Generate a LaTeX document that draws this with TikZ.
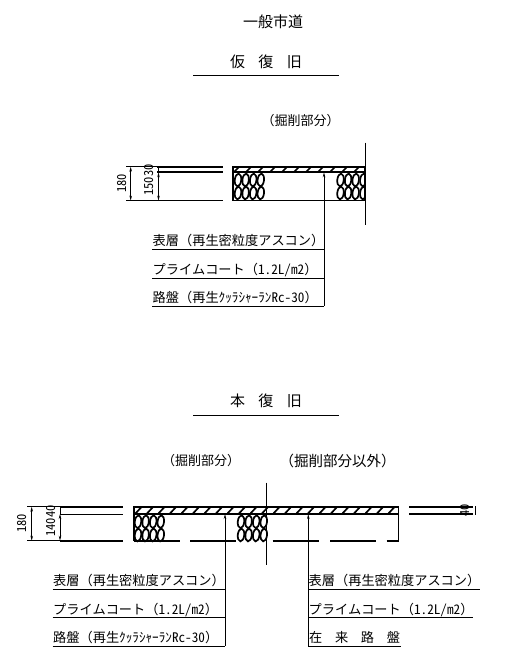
\documentclass[tikz,border=0pt]{standalone}
\usepackage{fontspec}
\setmainfont{Noto Sans CJK JP}
\newfontfamily\hwfont{Noto Sans CJK JP}[RawFeature=+hwid]
\usepackage{tikz}
\usetikzlibrary{arrows.meta}

\tikzset{
  titletext/.style={inner sep=0, font=\fontsize{15}{15}\selectfont},
  parttext/.style={inner sep=0, font=\fontsize{13}{13}\selectfont},
  layertext/.style={inner sep=0, anchor=base west, font=\fontsize{13.2}{13}\selectfont},
  dimtext/.style={inner sep=0, rotate=90, font=\fontsize{12.5}{12}\hwfont},
  heavy/.style={line width=1.7pt},
  thinline/.style={line width=0.8pt},
  dimline/.style={line width=0.6pt, {Stealth[length=5pt,width=2.5pt]}-{Stealth[length=5pt,width=2.5pt]}},
  stone/.style={line width=1.7pt}
}

% two rows of gravel from x=#1, rows at y=#2 and y=#3
\newcommand{\gravelrows}[3]{%
  \foreach \dx in {0,7.6,15.2,22.8} {
    \draw[stone] (#1+\dx,#2) ellipse[x radius=3.2, y radius=6.4, rotate=-6];
    \draw[stone] (#1+\dx,#3) ellipse[x radius=3.2, y radius=6.4, rotate=-6];
  }%
}

\begin{document}
\begin{tikzpicture}[x=1pt, y=-1pt]
  \useasboundingbox (0,0) rectangle (509,652);

  % titles
  \node[titletext] (general) at (273,22) {一般市道};
  \node[titletext] (temporary) at (266,62) {仮\hspace{0.9em}復\hspace{0.9em}旧};
  \node[titletext] (permanent) at (266,401) {本\hspace{0.9em}復\hspace{0.9em}旧};
  \draw[thinline] (193,75) -- (339,75);
  \draw[thinline] (193,415) -- (339,415);

  % upper section
  \node[parttext] (digA) at (300.5,120.5) {（掘削部分）};
  \draw[heavy] (157,166.7) -- (222.7,166.7);
  \draw[thinline] (126,166.7) -- (157,166.7);
  \draw[heavy] (157,172.3) -- (222.7,172.3);
  \draw[heavy] (157,200.6) -- (222.7,200.6);
  \draw[thinline] (126,200.6) -- (157,200.6);
  \draw[dimline] (130.7,166.7) -- (130.7,200.6);
  \draw[dimline] (158.5,172.3) -- (158.5,200.6);
  \draw[thinline] (158.5,166.7) -- (158.5,172.3);
  \node[dimtext] (dimAtotal) at (122,183.5) {180};
  \node[dimtext] (dimAbase) at (149.5,186.5) {150};
  \node[dimtext] (dimAtop) at (149.5,170.5) {30};

  \draw[heavy] (233,166.7) rectangle (365,200.6);
  \draw[heavy] (233,172.3) -- (365,172.3);
  \foreach \x in {233,245,...,353}
    \draw[heavy] (\x+1,172) -- (\x+6,167);
  \begin{scope}
    \clip (233,167) rectangle (365,200);
    \gravelrows{238}{180}{193}
    \gravelrows{340.5}{180}{193}
  \end{scope}
  \draw[thinline] (365,142.7) -- (365,225);

  \coordinate (leadA) at (324,172.3);
  \coordinate (leadAend) at (324,306);
  \draw[thinline, {Stealth[length=5pt,width=2.5pt]}-] (leadA) -- (leadAend);

  \node[layertext] (surfA) at (152.5,245.5) {表層（再生密粒度アスコン）};
  \node[layertext] (primeA) at (152.5,274) {プライムコート（{\hwfont 1.2L/m2}）};
  \node[layertext] (baseA) at (152.5,302) {路盤（再生ｸｯﾗｼｬｰﾗﾝ{\hwfont Rc-30}）};
  \draw[thinline] (152,249.3) -- (323.5,249.3);
  \draw[thinline] (152,278) -- (323.5,278);
  \draw[thinline] (152,306) -- (leadAend);

  % lower section
  \node[parttext] (digB) at (201,460.5) {（掘削部分）};
  \node[parttext, font=\fontsize{14.5}{14}\selectfont] (ndigB) at (337.5,460.5) {（掘削部分以外）};
  \draw[thinline] (27,506.7) -- (60,506.7);
  \draw[thinline] (27,540.7) -- (60,540.7);
  \draw[heavy] (60,506.7) -- (123,506.7);
  \draw[thinline] (60,514) -- (123,514);
  \draw[heavy] (60,540.7) -- (123,540.7);
  \draw[dimline] (31.7,506.7) -- (31.7,540.7);
  \draw[dimline] (60,514) -- (60,540.7);
  \draw[thinline] (60,506.7) -- (60,514);
  \node[dimtext] (dimBtotal) at (22,523.5) {180};
  \node[dimtext] (dimBbase) at (51.5,527.5) {140};
  \node[dimtext] (dimBtop) at (51.5,511) {40};

  \draw[heavy] (134,506.7) -- (398.5,506.7);
  \draw[heavy] (134,514) -- (398.5,514);
  \foreach \x in {135,146.5,...,390}
    \draw[heavy] (\x,514) -- (\x+6.5,507);
  \draw[heavy] (134,506) -- (134,541);
  \draw[heavy] (398.5,506) -- (398.5,541);
  \gravelrows{138}{521.7}{535}
  \gravelrows{241}{521.7}{535}
  \draw[heavy] (134,540.7) -- (180,540.7);
  \draw[heavy] (190,540.7) -- (236,540.7);
  \draw[heavy] (272.7,540.7) -- (319,540.7);
  \draw[heavy] (330,540.7) -- (376,540.7);
  \draw[heavy] (386.7,540.7) -- (398.5,540.7);
  \draw[thinline] (266,482.7) -- (266,565);

  \draw[heavy] (409,506.7) -- (473,506.7);
  \draw[heavy] (409,514) -- (473,514);
  \draw[heavy] (475.5,506) -- (475.5,515);
  \draw[thinline, -{Stealth[length=5pt,width=2.5pt]}] (473,514) -- (461,514);
  \node[dimtext] (dimBright) at (465,510) {40};

  \coordinate (leadB) at (225,514);
  \coordinate (leadBend) at (225,646);
  \coordinate (leadC) at (308.3,514);
  \coordinate (leadCend) at (308.3,646);
  \draw[thinline, {Stealth[length=5pt,width=2.5pt]}-] (leadB) -- (leadBend);
  \draw[thinline, {Stealth[length=5pt,width=2.5pt]}-] (leadC) -- (leadCend);

  \node[layertext] (surfB) at (53,585.5) {表層（再生密粒度アスコン）};
  \node[layertext] (primeB) at (53,614) {プライムコート（{\hwfont 1.2L/m2}）};
  \node[layertext] (baseB) at (53,642) {路盤（再生ｸｯﾗｼｬｰﾗﾝ{\hwfont Rc-30}）};
  \draw[thinline] (52.7,589.3) -- (225,589.3);
  \draw[thinline] (52.7,617.7) -- (225,617.7);
  \draw[thinline] (52.7,646) -- (leadBend);

  \node[layertext] (surfC) at (308.5,585.5) {表層（再生密粒度アスコン）};
  \node[layertext] (primeC) at (308.5,614) {プライムコート（{\hwfont 1.2L/m2}）};
  \node[layertext] (baseC) at (309,642) {在\hspace{0.96em}来\hspace{0.96em}路\hspace{0.96em}盤};
  \draw[thinline] (308.3,589.3) -- (480,589.3);
  \draw[thinline] (308.3,617.7) -- (473,617.7);
  \draw[thinline] (leadCend) -- (400.7,646);
\end{tikzpicture}
\end{document}
